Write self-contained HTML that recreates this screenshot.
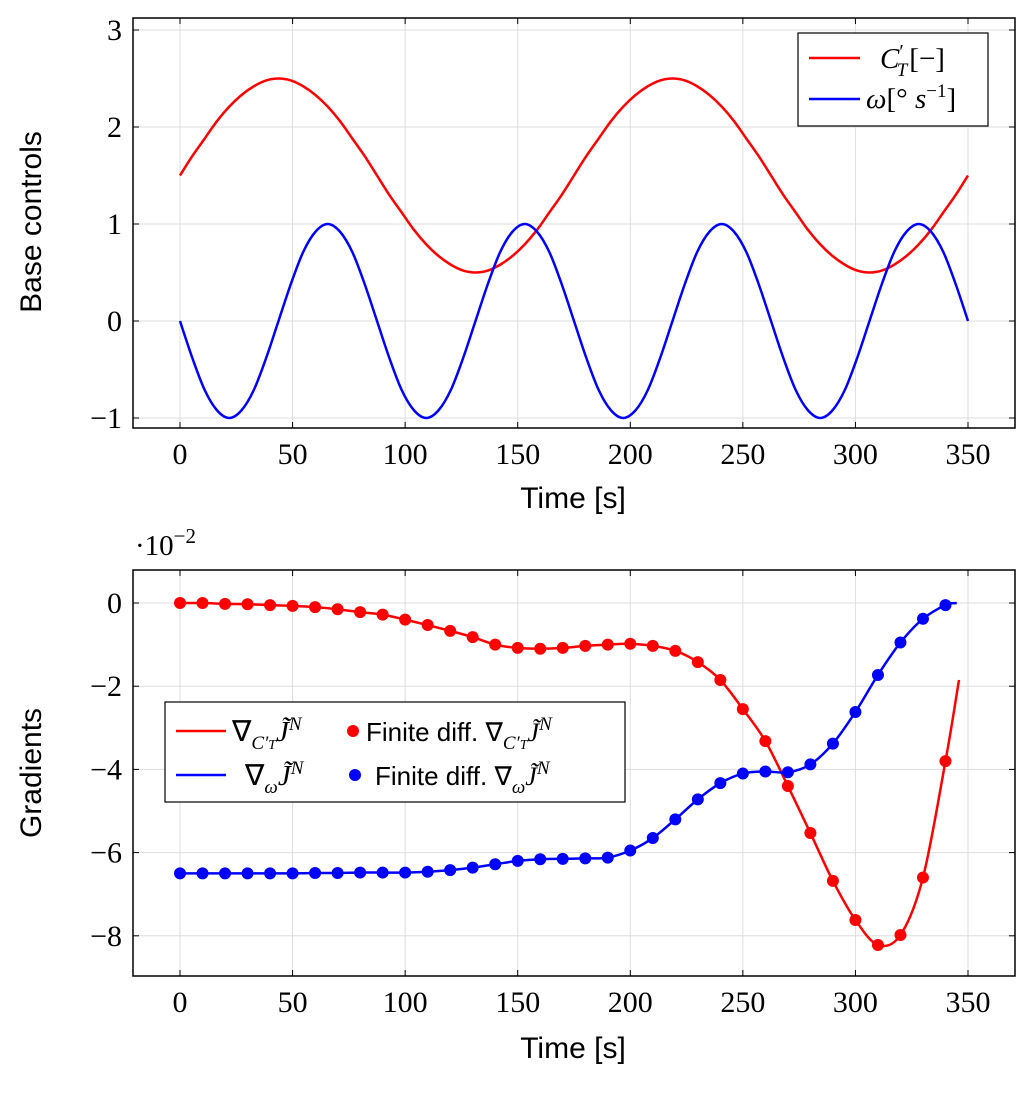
<!DOCTYPE html>
<html><head><meta charset="utf-8"><style>
body{margin:0;background:#fff}
svg text{font-family:"Liberation Serif",serif}
.s{font-family:"Liberation Sans",sans-serif}
</style></head><body>
<svg id="c" width="1033" height="1088" xmlns="http://www.w3.org/2000/svg"></svg>
<script>
const topStep = 5.46875;
const ctVals = [1.5,1.70,1.88,2.06,2.21,2.33,2.42,2.48,2.5,2.48,2.42,2.33,2.21,2.06,1.88,1.70,1.5,1.30,1.12,0.94,0.79,0.67,0.58,0.52,0.5,0.52,0.58,0.67,0.79,0.94,1.12,1.30,
1.5,1.70,1.88,2.06,2.21,2.33,2.42,2.48,2.5,2.48,2.42,2.33,2.21,2.06,1.88,1.70,1.5,1.30,1.12,0.94,0.79,0.67,0.58,0.52,0.5,0.52,0.58,0.67,0.79,0.94,1.12,1.30,1.5];
const omegaVals = [0,-0.38,-0.71,-0.92,-1,-0.92,-0.71,-0.38,0,0.38,0.71,0.92,1,0.92,0.71,0.38,
0,-0.38,-0.71,-0.92,-1,-0.92,-0.71,-0.38,0,0.38,0.71,0.92,1,0.92,0.71,0.38,
0,-0.38,-0.71,-0.92,-1,-0.92,-0.71,-0.38,0,0.38,0.71,0.92,1,0.92,0.71,0.38,
0,-0.38,-0.71,-0.92,-1,-0.92,-0.71,-0.38,0,0.38,0.71,0.92,1,0.92,0.71,0.38,0];
const gradT = [0,10,20,30,40,50,60,70,80,90,100,110,120,130,140,150,160,170,180,190,200,210,220,230,240,250,260,270,280,290,300,310,320,330,340];
const gradCt = [0,0,-0.02,-0.03,-0.05,-0.07,-0.1,-0.15,-0.22,-0.28,-0.4,-0.53,-0.67,-0.82,-1.0,-1.08,-1.1,-1.08,-1.03,-1.0,-0.98,-1.03,-1.15,-1.42,-1.85,-2.55,-3.32,-4.4,-5.53,-6.68,-7.62,-8.22,-7.98,-6.6,-3.8];
const gradCtEnd = [346,-1.85];
const gradOm = [-6.5,-6.5,-6.5,-6.5,-6.5,-6.5,-6.49,-6.49,-6.48,-6.48,-6.48,-6.46,-6.42,-6.36,-6.28,-6.2,-6.16,-6.15,-6.14,-6.12,-5.95,-5.65,-5.2,-4.72,-4.33,-4.1,-4.05,-4.07,-3.88,-3.38,-2.62,-1.73,-0.95,-0.38,-0.05];
const gradOmEnd = [345,0];
const xTicks = [0,50,100,150,200,250,300,350];
const topYTicks = [3,2,1,0,-1];
const botYTicks = [0,-2,-4,-6,-8];

const NS="http://www.w3.org/2000/svg", svg=document.getElementById('c');
function mk(tag,at,parent){const e=document.createElementNS(NS,tag);for(const k in at)e.setAttribute(k,at[k]);(parent||svg).appendChild(e);return e;}
const X=t=>180+t*(968-180)/350;
const Yt=v=>321-v*97;
const Yb=v=>603-v*41.6;
function smooth(pts){let d=`M${pts[0][0]},${pts[0][1]}`;for(let i=0;i<pts.length-1;i++){const p0=pts[i-1]||pts[i],p1=pts[i],p2=pts[i+1],p3=pts[i+2]||p2;
d+=` C${p1[0]+(p2[0]-p0[0])/6},${p1[1]+(p2[1]-p0[1])/6} ${p2[0]-(p3[0]-p1[0])/6},${p2[1]-(p3[1]-p1[1])/6} ${p2[0]},${p2[1]}`;}return d;}
function frame(y0,y1,Y,ticks,fmt,name){
  const g=mk('g',{});
  xTicks.forEach(t=>{mk('line',{x1:X(t),x2:X(t),y1:y0,y2:y1,stroke:'#ddd','stroke-width':1},g);
    mk('line',{x1:X(t),x2:X(t),y1:y1,y2:y1-6,stroke:'#000'},g);mk('line',{x1:X(t),x2:X(t),y1:y0,y2:y0+6,stroke:'#000'},g);
    const tx=mk('text',{x:X(t),y:y1+36,'text-anchor':'middle','font-size':30},g);tx.textContent=t;});
  ticks.forEach(v=>{mk('line',{x1:133,x2:1015,y1:Y(v),y2:Y(v),stroke:'#ddd'},g);
    mk('line',{x1:133,x2:139,y1:Y(v),y2:Y(v),stroke:'#000'},g);mk('line',{x1:1015,x2:1009,y1:Y(v),y2:Y(v),stroke:'#000'},g);
    const tx=mk('text',{x:122,y:Y(v)+10,'text-anchor':'end','font-size':30},g);tx.textContent=fmt(v);});
  mk('rect',{x:133,y:y0,width:882,height:y1-y0,fill:'none',stroke:'#000','stroke-width':1.5},g);
}
const fm=v=>v<0?'\u2212'+(-v):''+v;
frame(18,428,Yt,topYTicks,fm,'top-axes');
frame(570,976,Yb,botYTicks,fm,'bottom-axes');
function lab(txt,x,y,rot,name){const t=mk('text',{x:x,y:y,'text-anchor':'middle','font-size':30,class:'s',transform:rot?`rotate(-90 ${x} ${y})`:''});t.textContent=txt;}
lab('Time [s]',573,508,false,'top-x-axis-title');
lab('Base controls',41,222,true,'top-y-axis-title');
lab('Time [s]',573,1058,false,'bottom-x-axis-title');
lab('Gradients',41,773,true,'bottom-y-axis-title');
const sc=mk('text',{x:135,y:555,'font-size':29});sc.innerHTML='·10<tspan dy="-12" font-size="21">\u22122</tspan>';


let p=mk('path',{d:smooth(ctVals.map((v,i)=>[X(i*topStep),Yt(v)])),fill:'none',stroke:'#f00','stroke-width':2.5});

p=mk('path',{d:smooth(omegaVals.map((v,i)=>[X(i*topStep),Yt(v)])),fill:'none',stroke:'#00f','stroke-width':2.5});


const ctPts=gradT.map((t,i)=>[X(t),Yb(gradCt[i])]).concat([[X(gradCtEnd[0]),Yb(gradCtEnd[1])]]);
const omPts=gradT.map((t,i)=>[X(t),Yb(gradOm[i])]).concat([[X(gradOmEnd[0]),Yb(gradOmEnd[1])]]);
p=mk('path',{d:smooth(ctPts),fill:'none',stroke:'#f00','stroke-width':2.5});
p=mk('path',{d:smooth(omPts),fill:'none',stroke:'#00f','stroke-width':2.5});
gradT.forEach((t,i)=>{let c=mk('circle',{cx:X(t),cy:Yb(gradCt[i]),r:6,fill:'#f00'});
  c=mk('circle',{cx:X(t),cy:Yb(gradOm[i]),r:6,fill:'#00f'});});

// top legend
let lg=mk('g',{});
mk('rect',{x:798,y:33,width:190,height:93,fill:'#fff',stroke:'#000','stroke-width':1.2},lg);
mk('line',{x1:809,x2:860,y1:58,y2:58,stroke:'#f00','stroke-width':2.5},lg);
mk('line',{x1:809,x2:860,y1:99,y2:99,stroke:'#00f','stroke-width':2.5},lg);
let t=mk('text',{x:880,y:68,'font-size':29},lg);t.innerHTML='<tspan font-style="italic">C</tspan><tspan dy="-10" font-size="20">\u2032</tspan><tspan dy="18" dx="-7" font-size="19" font-style="italic">T</tspan><tspan dy="-8" dx="2">[\u2212]</tspan>';
t=mk('text',{x:866,y:108,'font-size':29},lg);t.innerHTML='<tspan font-style="italic">ω</tspan>[° <tspan font-style="italic">s</tspan><tspan dy="-11" font-size="19">\u22121</tspan><tspan dy="11">]</tspan>';

// bottom legend
lg=mk('g',{});
mk('rect',{x:165,y:702,width:460,height:100,fill:'#fff',stroke:'#000','stroke-width':1.2},lg);
mk('line',{x1:176,x2:226,y1:731,y2:731,stroke:'#f00','stroke-width':2.5},lg);
mk('line',{x1:176,x2:226,y1:775,y2:775,stroke:'#00f','stroke-width':2.5},lg);
mk('circle',{cx:353,cy:731,r:6,fill:'#f00'},lg);
mk('circle',{cx:355,cy:775,r:6,fill:'#00f'},lg);
const ctSym='∇<tspan dy="8" font-size="19" font-style="italic">C′<tspan font-size="14">T</tspan></tspan><tspan dy="-8" font-style="italic">J̃</tspan><tspan dy="-11" font-size="19" font-style="italic">N</tspan>';
const omSym='∇<tspan dy="8" font-size="19" font-style="italic">ω</tspan><tspan dy="-8" font-style="italic">J̃</tspan><tspan dy="-11" font-size="19" font-style="italic">N</tspan>';
t=mk('text',{x:232,y:741,'font-size':29},lg);t.innerHTML=ctSym;
t=mk('text',{x:245,y:785,'font-size':29},lg);t.innerHTML=omSym;
t=mk('text',{x:366,y:741,'font-size':26},lg);t.innerHTML='<tspan font-family="Liberation Sans">Finite diff. </tspan>'+ctSym;
t=mk('text',{x:375,y:785,'font-size':26},lg);t.innerHTML='<tspan font-family="Liberation Sans">Finite diff. </tspan>'+omSym;
</script>
</body></html>
